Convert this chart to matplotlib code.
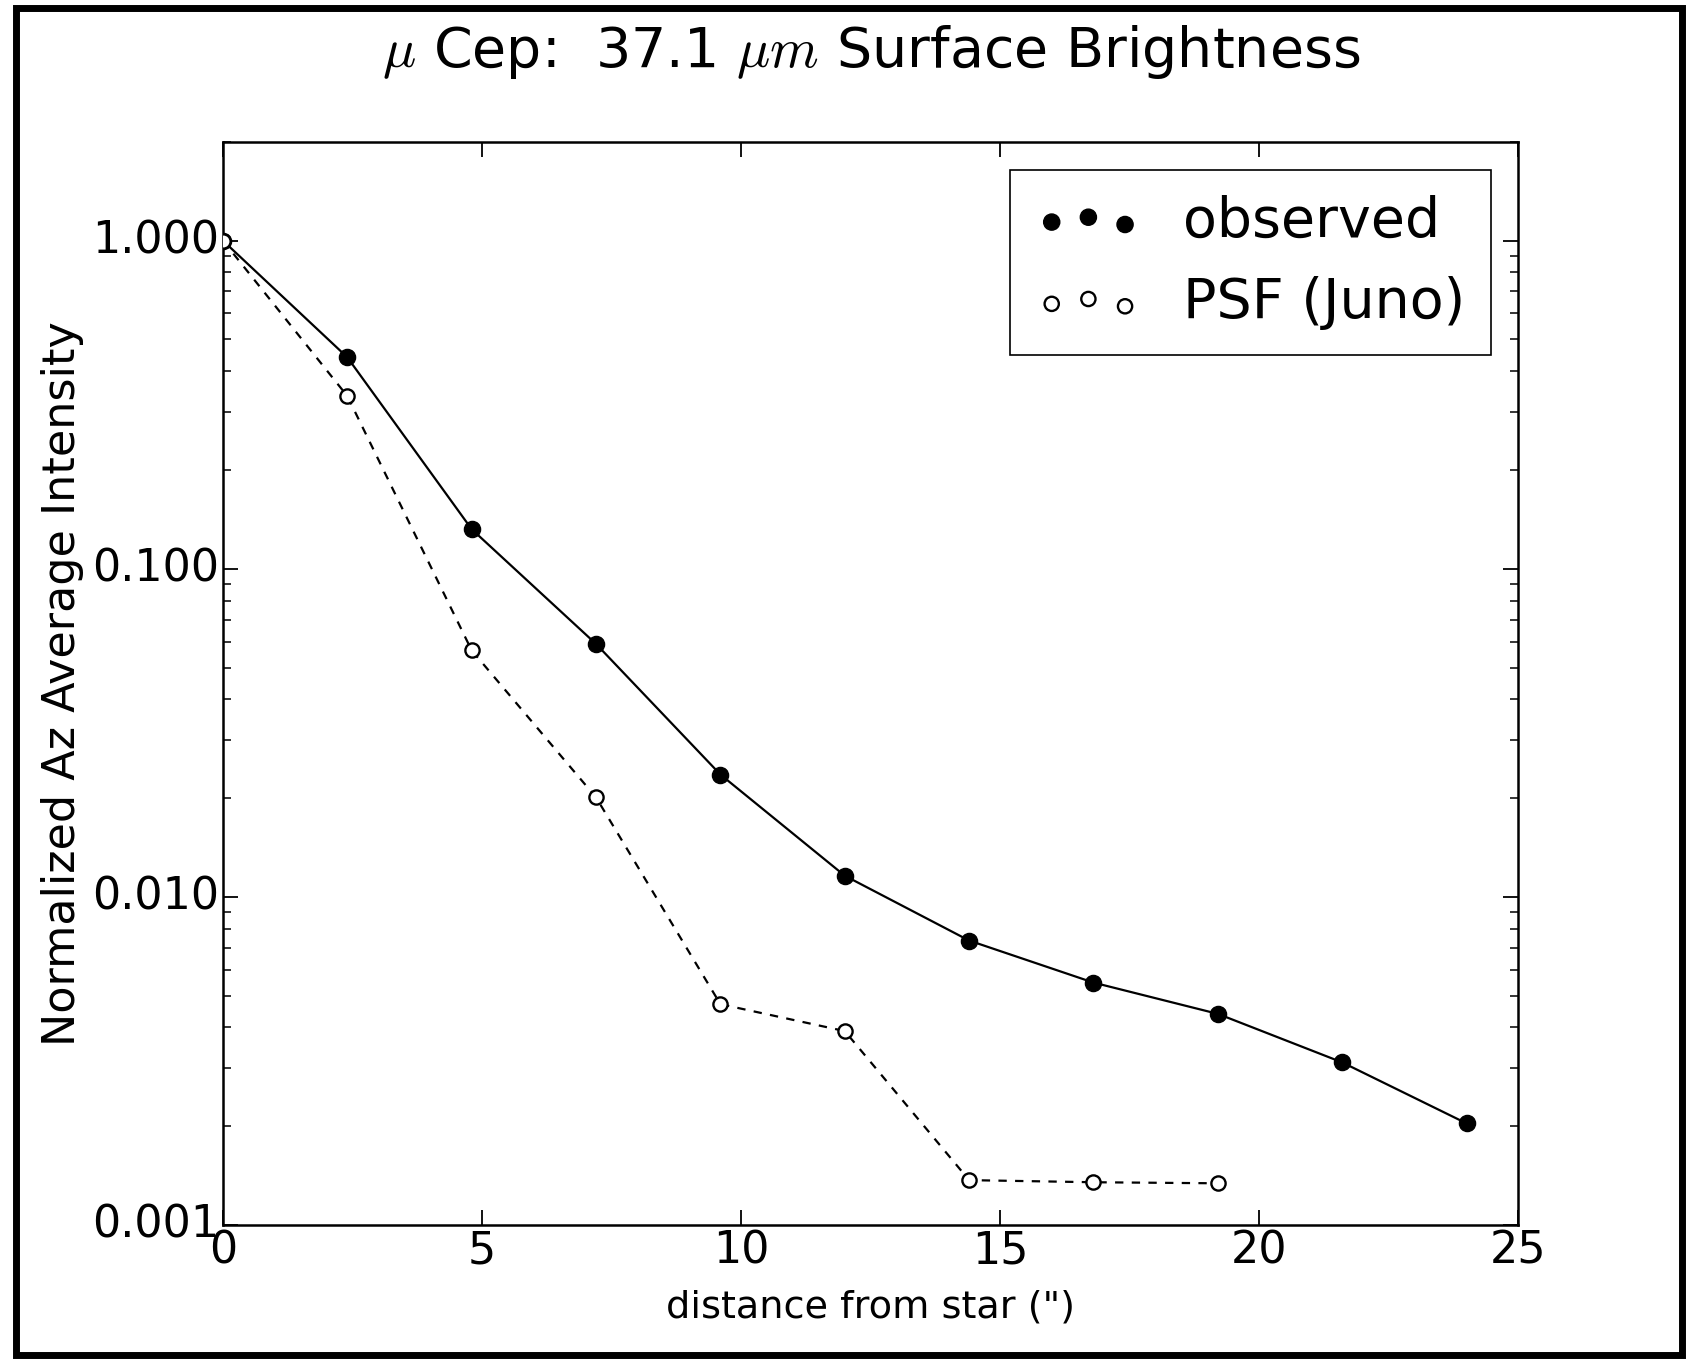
import matplotlib
matplotlib.use('Agg')
import matplotlib.pyplot as plt
from matplotlib.patches import Rectangle

# distance from star (arcsec)
dist_obs = [0.0, 2.4, 4.8, 7.2, 9.6, 12.0, 14.4, 16.8, 19.2, 21.6, 24.0]
obs = [1.0, 0.441, 0.132, 0.059, 0.0236, 0.0116, 0.00736, 0.00548, 0.0044, 0.00313, 0.00204]

dist_psf = [0.0, 2.4, 4.8, 7.2, 9.6, 12.0, 14.4, 16.8, 19.2]
psf = [1.0, 0.336, 0.0564, 0.0201, 0.00471, 0.0039, 0.00137, 0.00135, 0.00134]

yticks = [0.001, 0.01, 0.1, 1.0]
xticks = [0, 5, 10, 15, 20, 25]

plt.style.use('classic')
plt.rcParams['mathtext.fontset'] = 'cm'

fig = plt.figure(figsize=(16.89, 13.59), dpi=100, facecolor='white')
ax = fig.add_axes([0.132, 0.0986, 0.767, 0.797])

ax.plot(dist_obs, obs, 'k-', lw=1.6)
ax.scatter(dist_obs, obs, s=135, c='k', edgecolors='k', zorder=3, label='observed')
ax.plot(dist_psf, psf, 'k--', lw=1.6, dashes=(6, 6))
ax.scatter(dist_psf, psf, s=105, facecolors='white', edgecolors='k', linewidths=1.7,
           zorder=3, label='PSF (Juno)')

ax.set_yscale('log')
ax.set_ylim(0.001, 2.0)
ax.set_xlim(0, 25)
ax.set_xticks(xticks)
ax.set_yticks(yticks)
ax.set_yticklabels(['%.3f' % v for v in yticks])
ax.tick_params(which='major', length=11, width=1.3, labelsize=32, pad=3)
ax.tick_params(which='minor', length=6, width=1.1)
for sp in ax.spines.values():
    sp.set_linewidth(1.8)

ax.set_xlabel('distance from star (")', fontsize=27.5)
ax.set_ylabel('Normalized Az Average Intensity', fontsize=32)
ax.xaxis.set_label_coords(0.5, -0.06)
ax.yaxis.set_label_coords(-0.107, 0.5)

fig.text(0.516, 0.962, r'$\mu$ Cep:  37.1 $\mu m$ Surface Brightness',
         fontsize=40, ha='center', va='center')

leg = ax.legend(loc='upper right', fontsize=40, scatterpoints=3, handlelength=1.92,
                handletextpad=0.75, borderpad=0.45, labelspacing=0.5)
leg.get_frame().set_linewidth(1.2)

# thick frame around the whole figure
fig.patches.append(Rectangle((0.0095, 0.003), 0.9865, 0.991, transform=fig.transFigure,
                             fill=False, edgecolor='black', linewidth=5))

fig.savefig('out.png', dpi=100, facecolor='white')
